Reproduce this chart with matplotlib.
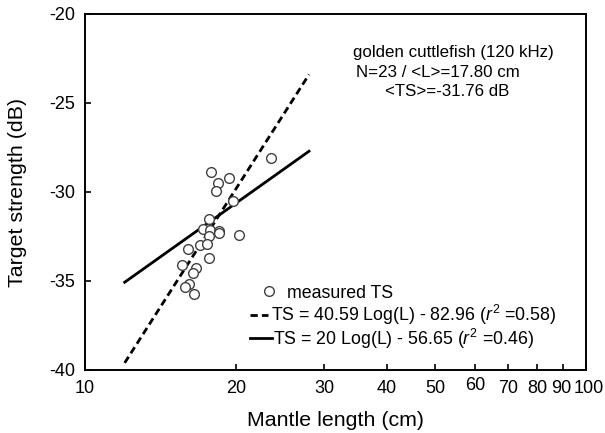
import numpy as np
import matplotlib.pyplot as plt
from matplotlib.transforms import ScaledTranslation

plt.rcParams['font.family'] = ['Liberation Sans', 'DejaVu Sans']
plt.rcParams['mathtext.fontset'] = 'custom'
plt.rcParams['mathtext.rm'] = 'Liberation Sans'
plt.rcParams['mathtext.it'] = 'Liberation Sans:italic'
plt.rcParams['axes.unicode_minus'] = False

# measured mantle length (cm) and target strength (dB)
length = [23.55, 17.85, 19.41, 18.45, 18.23, 19.74, 17.65, 17.18, 17.76, 18.53,
          18.53, 17.70, 20.29, 16.03, 16.97, 17.50, 17.68, 15.64, 16.66, 16.45,
          16.13, 15.81, 16.53]
ts = [-28.11, -28.88, -29.20, -29.51, -29.96, -30.49, -31.52, -32.08, -32.15, -32.17,
      -32.29, -32.47, -32.40, -33.22, -32.98, -32.94, -33.72, -34.10, -34.25, -34.53,
      -35.17, -35.34, -35.73]

# regression lines (end points as drawn)
fit_L = [12, 28]
fit_dash = [-39.6, -23.4]
fit_solid = [-35.07, -27.71]

xticks = [10, 20, 30, 40, 50, 60, 70, 80, 90, 100]
yticks = [-40, -35, -30, -25, -20]

lab_pts = 'measured TS'
lab_dash = 'TS = 40.59 Log(L) - 82.96 ($r^2$ =0.58)'
lab_solid = 'TS = 20 Log(L) - 56.65 ($r^2$ =0.46)'

fig = plt.figure(figsize=(6.05, 4.33), dpi=100)
ax = fig.add_axes([0.1405, 0.1455, 0.8281, 0.8222])

mk = dict(marker='o', ms=7, mfc='white', mec='#404040', mew=1, ls='none')
ax.plot(length, ts, zorder=3, **mk)
ax.plot(fit_L, fit_dash, color='black', lw=2, ls=(0, (2.6, 1.5)))
ax.plot(fit_L, fit_solid, color='black', lw=2)

ax.set_xscale('log')
ax.set_xlim(10, 100)
ax.set_ylim(-40, -20)
ax.set_xticks(xticks)
ax.set_xticklabels([str(v) for v in xticks])
ax.xaxis.set_minor_locator(plt.NullLocator())
ax.set_yticks(yticks)
ax.tick_params(direction='in', length=4, width=1.2, labelsize=13, pad=7)
for s in ax.spines.values():
    s.set_linewidth(1.4)

# crowded labels at the right end, nudged like in the original
shifts = {'60': (0, 3), '90': (-2, 0), '100': (3, 0)}
for lbl in ax.get_xticklabels():
    if lbl.get_text() in shifts:
        dx, dy = shifts[lbl.get_text()]
        lbl.set_transform(lbl.get_transform() +
                          ScaledTranslation(dx / 100, dy / 100, fig.dpi_scale_trans))

ax.set_xlabel('Mantle length (cm)', fontsize=15.4, labelpad=10)
ax.set_ylabel('Target strength (dB)', fontsize=15.4, labelpad=16)

# annotation
ax.text(0.534, 0.880, 'golden cuttlefish (120 kHz)', transform=ax.transAxes,
        fontsize=12.2, va='baseline')
ax.text(0.541, 0.824, 'N=23 / <L>=17.80 cm', transform=ax.transAxes,
        fontsize=12.2, va='baseline')
ax.text(0.599, 0.770, '<TS>=-31.76 dB', transform=ax.transAxes,
        fontsize=12.2, va='baseline')

# legend
t = ax.transAxes
ax.plot([0.367], [0.2205], transform=t, **mk)
ax.text(0.403, 0.2028, lab_pts, transform=t, fontsize=12.8, va='baseline')
ax.plot([0.329, 0.365], [0.1545, 0.1545], transform=t, color='black', lw=2,
        ls=(0, (2.6, 1.5)))
ax.text(0.371, 0.1368, lab_dash, transform=t, fontsize=12.8, va='baseline')
ax.plot([0.329, 0.373], [0.089, 0.089], transform=t, color='black', lw=2)
ax.text(0.375, 0.0713, lab_solid, transform=t, fontsize=12.8, va='baseline')

fig.savefig('out.png', dpi=100)
